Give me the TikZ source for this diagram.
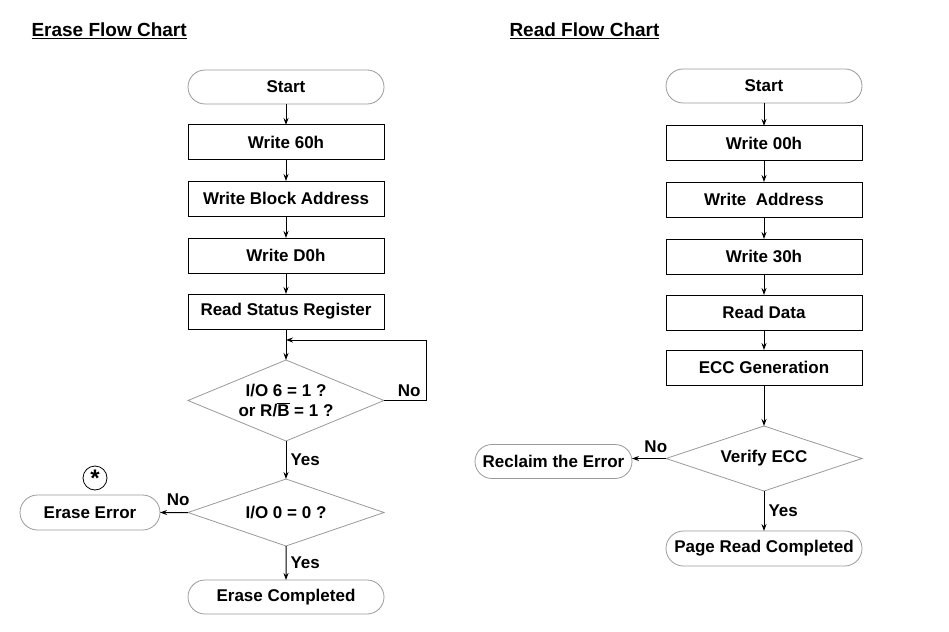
\documentclass[tikz,border=0pt]{standalone}
\usepackage{fontspec}
\setmainfont{Liberation Sans}
\usetikzlibrary{positioning, shapes.misc, shapes.geometric, arrows.meta}
\tikzset{
  proc/.style={draw, line width=1pt, minimum width=196pt, minimum height=35pt, inner sep=0pt, outer sep=0pt},
  term/.style={draw=gray!80, line width=0.8pt, rounded rectangle, minimum width=196pt, minimum height=34pt, inner sep=0pt, outer sep=0pt},
  decide/.style={draw=gray!80, line width=0.8pt, diamond, aspect=2.4, minimum width=196pt, inner sep=0pt, outer sep=0pt, align=center},
  lbl/.style={inner sep=2pt},
}
\begin{document}
\begin{tikzpicture}[x=1pt, y=-1pt, ->, >={Stealth[length=7pt,width=5pt]}, line width=1pt,
    font=\fontsize{17}{19.5}\selectfont\bfseries]
    \useasboundingbox (0,0) rectangle (949,631);
    % erase
    \node [anchor=west, inner sep=0pt, font=\fontsize{19}{22}\selectfont\bfseries] (etitle) at (31,31) {\underline{Erase Flow Chart}};
    \node [term] (estart) at (286,87) {Start};
    \node [proc, below=21pt of estart] (w60) {Write 60h};
    \node [proc, below=21pt of w60] (wblk) {Write Block Address};
    \node [proc, below=22pt of wblk] (wd0) {Write D0h};
    \node [proc, below=21pt of wd0] (rsr) {Read Status Register};
    \node [decide, minimum height=81pt, below=31pt of rsr] (rdy) {I/O 6 = 1 ?\\or R/$\overline{\mbox{B}}$ = 1 ?};
    \node [decide, minimum height=67pt, below=38pt of rdy] (io0) {I/O 0 = 0 ?};
    \node [term, below=34pt of io0] (edone) {Erase Completed};
    \node [term, minimum width=140pt, minimum height=35pt, left=28pt of io0] (eerr) {Erase Error};
    \node [draw, circle, line width=0.8pt, minimum size=24pt, inner sep=0pt, font=\fontsize{24}{24}\selectfont\bfseries] (star) at (95,478) {\raisebox{-7pt}{*}};
    \coordinate (merge) at (286,340);
    \path (estart) edge (w60)
          (w60) edge (wblk)
          (wblk) edge (wd0)
          (wd0) edge (rsr)
          (rsr) edge (rdy)
          (rdy) edge node[lbl, right, xshift=2pt] {Yes} (io0)
          (io0) edge node[lbl, right, xshift=2pt] {Yes} (edone)
          (io0) edge node[lbl, above, pos=0.35, yshift=4pt] {No} (eerr);
    \draw (rdy.east) -- node[lbl, above, pos=0.6, yshift=1pt] {No} ++(42,0) |- (merge);
    % read
    \node [anchor=west, inner sep=0pt, font=\fontsize{19}{22}\selectfont\bfseries] (rtitle) at (509,31) {\underline{Read Flow Chart}};
    \node [term] (rstart) at (764,86) {Start};
    \node [proc, below=23pt of rstart] (w00) {Write 00h};
    \node [proc, below=21pt of w00] (waddr) {Write\ \ Address};
    \node [proc, below=22pt of waddr] (w30) {Write 30h};
    \node [proc, below=21pt of w30] (rdat) {Read Data};
    \node [proc, below=20pt of rdat] (eccg) {ECC Generation};
    \node [decide, minimum height=65pt, below=41pt of eccg] (vecc) {Verify ECC};
    \node [term, minimum height=35pt, below=40pt of vecc] (rdone) {Page Read Completed};
    \node [term, minimum width=157pt, left=34pt of vecc, yshift=-3pt] (recl) {Reclaim the Error};
    \path (rstart) edge (w00)
          (w00) edge (waddr)
          (waddr) edge (w30)
          (w30) edge (rdat)
          (rdat) edge (eccg)
          (eccg) edge (vecc)
          (vecc) edge node[lbl, right, xshift=2pt] {Yes} (rdone);
    \draw (vecc.west) -- node[lbl, above, pos=0.3, yshift=3pt] {No} (vecc.west -| recl.east);
\end{tikzpicture}
\end{document}
